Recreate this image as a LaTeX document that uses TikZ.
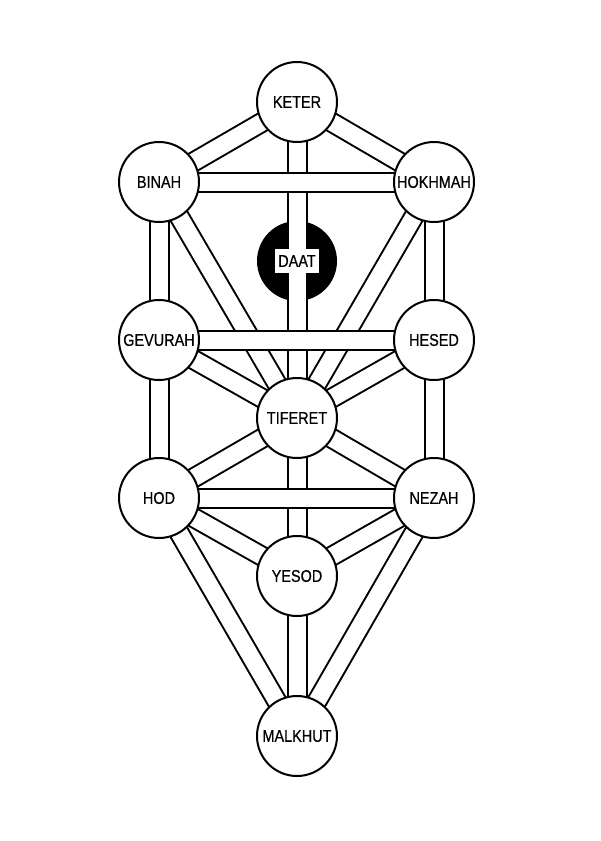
\documentclass[tikz,border=0pt]{standalone}
\usepackage{fontspec}
\newfontfamily\labfont[FakeStretch=0.85,FakeBold=0.6]{Liberation Sans}
\pgfdeclarelayer{paper}
\pgfdeclarelayer{daatbg}
\pgfdeclarelayer{chan}
\pgfdeclarelayer{hchan}
\pgfsetlayers{paper,daatbg,chan,hchan,main}
\tikzset{
  sefira/.style={circle, draw=black, fill=white, line width=2pt, minimum size=80pt, inner sep=0pt,
    font=\labfont\fontsize{17}{19}\selectfont},
  daatlab/.style={rectangle, fill=white, inner xsep=3pt, inner ysep=0pt, minimum height=24pt,
    font=\labfont\fontsize{17}{19}\selectfont},
  channel/.style={draw=black, line width=2pt, double=white, double distance=17pt, line cap=butt}
}
\begin{document}
\begin{tikzpicture}[x=1pt,y=-1pt]
\useasboundingbox (0,0) rectangle (600,841);
\begin{pgfonlayer}{paper}
  \fill[white] (0,0) rectangle (600,841);
\end{pgfonlayer}
\node[sefira] (keter)   at (297,102) {KETER};
\node[sefira] (binah)   at (159,182) {BINAH};
\node[sefira] (hokhmah) at (434,182) {HOKHMAH};
\node[daatlab] (daat)   at (297,261) {DAAT};
\node[sefira] (gevurah) at (159,340) {GEVURAH};
\node[sefira] (hesed)   at (434,340) {HESED};
\node[sefira] (tiferet) at (297,418) {TIFERET};
\node[sefira] (hod)     at (159,498) {HOD};
\node[sefira] (nezah)   at (434,498) {NEZAH};
\node[sefira] (yesod)   at (297,576) {YESOD};
\node[sefira] (malkhut) at (297,736) {MALKHUT};
\begin{pgfonlayer}{daatbg}
  \fill[black] (daat.center) circle (40);
\end{pgfonlayer}
\begin{pgfonlayer}{chan}
  \foreach \a/\b in {keter/binah, keter/hokhmah, keter/tiferet,
    binah/gevurah, binah/tiferet, hokhmah/hesed, hokhmah/tiferet,
    gevurah/tiferet, hesed/tiferet, gevurah/hod, hesed/nezah,
    tiferet/hod, tiferet/nezah, tiferet/yesod,
    hod/yesod, nezah/yesod, hod/malkhut, nezah/malkhut, yesod/malkhut}
    \draw[channel] (\a.center) -- (\b.center);
\end{pgfonlayer}
\begin{pgfonlayer}{hchan}
  \foreach \a/\b in {binah/hokhmah, gevurah/hesed, hod/nezah}
    \draw[channel] (\a.center) -- (\b.center);
\end{pgfonlayer}
\end{tikzpicture}
\end{document}
